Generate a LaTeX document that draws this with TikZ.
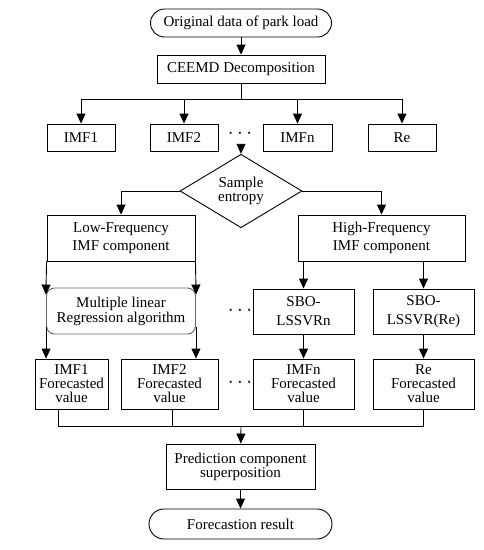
\documentclass[tikz,border=0pt]{standalone}
\usepackage{fontspec}
\setmainfont{Liberation Serif}
\usetikzlibrary{shapes.geometric, arrows.meta}

\tikzset{
    box/.style={draw, line width=0.9pt, inner sep=0pt, align=center, font=\fontsize{15}{14}\selectfont},
    term/.style={box, rounded corners=14pt},
    dots/.style={inner sep=0pt, font=\fontsize{20}{20}\selectfont},
    arr/.style={-{Triangle[length=10pt,width=9pt]}, line width=0.9pt}
}

\begin{document}
\begin{tikzpicture}[x=1pt, y=-1pt]
        \useasboundingbox (0,0) rectangle (483,550);
        % top part
        \node[term, minimum width=181pt, minimum height=28pt] (start) at (241,23) {Original data of park load};
        \node[box, minimum width=168pt, minimum height=28pt] (ceemd) at (241,69) {CEEMD Decomposition};
        \node[box, minimum width=68pt, minimum height=27pt] (imfa) at (81,137.5) {IMF1};
        \node[box, minimum width=68pt, minimum height=27pt] (imfb) at (184,137.5) {IMF2};
        \node[box, minimum width=69pt, minimum height=27pt] (imfn) at (297.5,137.5) {IMFn};
        \node[box, minimum width=68pt, minimum height=27pt] (imfre) at (402,137.5) {Re};
        \node[dots] (dotsa) at (240,134) {$\cdots$};
        \coordinate (split) at (241,99);
        \draw[arr] (start) -- (ceemd);
        \draw[line width=0.9pt] (ceemd) -- (split);
        \draw[arr] (split) -| (imfa);
        \draw[arr] (split) -| (imfb);
        \draw[arr] (split) -| (imfn);
        \draw[arr] (split) -| (imfre);
        % sample entropy
        \node[box, diamond, minimum width=122pt, minimum height=48pt] (ent) at (241,191) {Sample\\entropy};
        \draw[arr] (241,145) -- (ent.north);
        \node[box, font=\fontsize{15}{18}\selectfont, minimum width=148pt, minimum height=46pt] (low) at (121,238) {Low-Frequency\\IMF component};
        \node[box, font=\fontsize{15}{18}\selectfont, minimum width=167pt, minimum height=46pt] (high) at (381.5,238) {High-Frequency\\IMF component};
        \draw[arr] (ent.west) -| (low.north);
        \draw[arr] (ent.east) -| (high.north);
        % models
        \node[box, draw=black!60, rounded corners=8pt, font=\fontsize{15}{15}\selectfont, minimum width=149pt, minimum height=46pt] (mlr) at (121,311) {Multiple linear\\Regression algorithm};
        \node[box, font=\fontsize{15}{19}\selectfont, minimum width=101pt, minimum height=45pt] (sbon) at (303.5,311.5) {SBO-\\LSSVRn};
        \node[box, font=\fontsize{15}{19}\selectfont, minimum width=101pt, minimum height=45pt] (sbore) at (423.5,311.5) {SBO-\\LSSVR(Re)};
        \node[dots] (dotsb) at (240,311) {$\cdots$};
        \draw[arr, shorten >=-7pt] (low.south west) -- (mlr.north west);
        \draw[arr, shorten >=-7pt] (low.south east) -- (mlr.north east);
        \draw[arr] (high.south -| sbon) -- (sbon);
        \draw[arr] (high.south -| sbore) -- (sbore);
        % forecasted values
        \node[box, font=\fontsize{15}{14}\selectfont, minimum width=73pt, minimum height=50pt] (fa) at (71.5,384) {IMF1\\Forecasted\\value};
        \node[box, font=\fontsize{15}{14}\selectfont, minimum width=97pt, minimum height=50pt] (fb) at (169.5,384) {IMF2\\Forecasted\\value};
        \node[box, font=\fontsize{15}{14}\selectfont, minimum width=101pt, minimum height=50pt] (fn) at (303.5,384) {IMFn\\Forecasted\\value};
        \node[box, font=\fontsize{15}{14}\selectfont, minimum width=101pt, minimum height=50pt] (fre) at (423.5,384) {Re\\Forecasted\\value};
        \node[dots] (dotsc) at (240,383) {$\cdots$};
        \draw[arr, shorten <=-7pt] (mlr.south west) -- (mlr.south west |- fa.north);
        \draw[arr, shorten <=-7pt] (mlr.south east) -- (mlr.south east |- fb.north);
        \draw[arr] (sbon) -- (fn);
        \draw[arr] (sbore) -- (fre);
        % superposition
        \coordinate (merge) at (241,426);
        \draw[line width=0.9pt] ([xshift=-13.5pt]fa.south) |- (fre.south |- merge) -- (fre.south);
        \draw[line width=0.9pt] ([xshift=3pt]fb.south) -- ([xshift=3pt]fb.south |- merge);
        \draw[line width=0.9pt] (fn.south) -- (fn.south |- merge);
        \node[box, minimum width=149pt, minimum height=45pt] (sup) at (240.5,466.5) {Prediction component\\superposition};
        \node[term, rounded corners=15pt, minimum width=183pt, minimum height=30pt] (result) at (240.5,524) {Forecastion result};
        \draw[arr] (merge) -- (sup);
        \draw[arr] (sup) -- (result);
\end{tikzpicture}
\end{document}
